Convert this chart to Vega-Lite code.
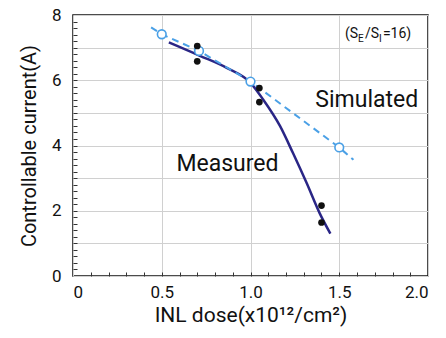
{
  "$schema": "https://vega.github.io/schema/vega-lite/v6.json",
  "width": 355,
  "height": 261,
  "autosize": {"type": "none"},
  "padding": {"left": 73, "top": 15, "right": 18, "bottom": 62},
  "background": "white",
  "config": {
    "font": "Roboto, Liberation Sans, sans-serif",
    "view": {"stroke": "#111", "strokeWidth": 1.5},
    "axis": {"domain": false}
  },
  "resolve": {"axis": {"x": "independent", "y": "independent"}},
  "datasets": {
    "measuredCurve": [
      {"x": 0.54, "y": 7.16},
      {"x": 0.715, "y": 6.75},
      {"x": 0.866, "y": 6.38},
      {"x": 1.0, "y": 5.92},
      {"x": 1.07, "y": 5.42},
      {"x": 1.166, "y": 4.6},
      {"x": 1.24, "y": 3.76},
      {"x": 1.317, "y": 2.84},
      {"x": 1.39, "y": 1.92},
      {"x": 1.45, "y": 1.3}
    ],
    "measured": [
      {"x": 0.7, "y": 7.05},
      {"x": 0.7, "y": 6.58},
      {"x": 1.05, "y": 5.76},
      {"x": 1.05, "y": 5.33},
      {"x": 1.4, "y": 2.16},
      {"x": 1.4, "y": 1.64}
    ],
    "simLine": [
      {"x": 0.44, "y": 7.62},
      {"x": 0.5, "y": 7.41},
      {"x": 0.71, "y": 6.9},
      {"x": 1.0, "y": 5.96},
      {"x": 1.5, "y": 3.94},
      {"x": 1.58, "y": 3.56}
    ],
    "simPoints": [
      {"x": 0.5, "y": 7.41},
      {"x": 0.71, "y": 6.9},
      {"x": 1.0, "y": 5.96},
      {"x": 1.5, "y": 3.94}
    ]
  },
  "layer": [
    {
      "data": {"name": "measuredCurve"},
      "mark": {"type": "line", "color": "#2a2686", "strokeWidth": 2.5, "interpolate": "monotone"},
      "encoding": {
        "x": {
          "field": "x", "type": "quantitative",
          "scale": {"domain": [0, 2], "nice": false, "zero": false},
          "axis": {
            "orient": "bottom",
            "title": "INL dose(x10¹²/cm²)",
            "titleFontSize": 21, "titleFontWeight": "normal", "titleColor": "#111", "titlePadding": 4,
            "values": [0, 0.5, 1.0, 1.5, 2.0],
            "labelExpr": "datum.value == 0 ? '0' : format(datum.value, '.1f')",
            "labelFontSize": 17, "labelColor": "#111", "labelPadding": 8, "labelOverlap": false,
            "ticks": false,
            "grid": true, "gridColor": "#d0d0d0", "gridWidth": 1
          }
        },
        "y": {
          "field": "y", "type": "quantitative",
          "scale": {"domain": [0, 8], "nice": false},
          "axis": {
            "orient": "left",
            "title": "Controllable current(A)",
            "titleFontSize": 20, "titleFontWeight": "normal", "titleColor": "#111", "titlePadding": 12,
            "values": [0, 1, 2, 3, 4, 5, 6, 7, 8],
            "labelExpr": "datum.value % 2 == 0 ? format(datum.value, 'd') : ''",
            "labelFontSize": 17, "labelColor": "#111", "labelPadding": 12, "labelOverlap": false,
            "ticks": false,
            "grid": true, "gridColor": "#d0d0d0", "gridWidth": 1
          }
        }
      }
    },
    {
      "data": {"name": "simLine"},
      "mark": {"type": "line", "color": "#4aa0e6", "strokeWidth": 2, "strokeDash": [7, 5]},
      "encoding": {
        "x": {
          "field": "x", "type": "quantitative",
          "axis": {
            "orient": "top", "title": null, "labels": false, "grid": false, "offset": -261,
            "values": [0.1,0.2,0.3,0.4,0.5,0.6,0.7,0.8,0.9,1.0,1.1,1.2,1.3,1.4,1.5,1.6,1.7,1.8,1.9],
            "tickSize": 4, "tickColor": "#333", "tickWidth": 1
          }
        },
        "y": {
          "field": "y", "type": "quantitative",
          "axis": {
            "orient": "right", "title": null, "labels": false, "grid": false, "offset": -355,
            "values": [0.2,0.4,0.6,0.8,1,1.2,1.4,1.6,1.8,2,2.2,2.4,2.6,2.8,3,3.2,3.4,3.6,3.8,4,4.2,4.4,4.6,4.8,5,5.2,5.4,5.6,5.8,6,6.2,6.4,6.6,6.8,7,7.2,7.4,7.6,7.8],
            "tickSize": 4, "tickColor": "#333", "tickWidth": 1
          }
        }
      }
    },
    {
      "data": {"name": "simPoints"},
      "mark": {"type": "point", "shape": "circle", "filled": false, "fill": "white", "fillOpacity": 1, "stroke": "#4aa0e6", "strokeWidth": 1.6, "size": 75, "opacity": 1},
      "encoding": {
        "x": {"field": "x", "type": "quantitative", "axis": null},
        "y": {"field": "y", "type": "quantitative", "axis": null}
      }
    },
    {
      "data": {"name": "measured"},
      "mark": {"type": "circle", "color": "#111", "size": 45, "opacity": 1},
      "encoding": {
        "x": {"field": "x", "type": "quantitative", "axis": null},
        "y": {"field": "y", "type": "quantitative", "axis": null}
      }
    },
    {
      "data": {"values": [{"x": 1.655, "y": 5.4, "t": "Simulated"}, {"x": 0.87, "y": 3.42, "t": "Measured"}]},
      "mark": {"type": "text", "fontSize": 23, "color": "#111", "align": "center", "baseline": "middle"},
      "encoding": {
        "x": {"field": "x", "type": "quantitative", "axis": null},
        "y": {"field": "y", "type": "quantitative", "axis": null},
        "text": {"field": "t"}
      }
    },
    {
      "data": {"values": [{"x": 1.532, "y": 7.41, "t": "(S"}, {"x": 1.645, "y": 7.41, "t": "/S"}, {"x": 1.746, "y": 7.41, "t": "=16)"}]},
      "mark": {"type": "text", "fontSize": 14, "color": "#111", "align": "left", "baseline": "middle"},
      "encoding": {
        "x": {"field": "x", "type": "quantitative", "axis": null},
        "y": {"field": "y", "type": "quantitative", "axis": null},
        "text": {"field": "t"}
      }
    },
    {
      "data": {"values": [{"x": 1.606, "y": 7.41, "t": "E"}, {"x": 1.724, "y": 7.41, "t": "I"}]},
      "mark": {"type": "text", "fontSize": 10, "color": "#111", "align": "left", "baseline": "middle", "dy": 5},
      "encoding": {
        "x": {"field": "x", "type": "quantitative", "axis": null},
        "y": {"field": "y", "type": "quantitative", "axis": null},
        "text": {"field": "t"}
      }
    }
  ]
}
